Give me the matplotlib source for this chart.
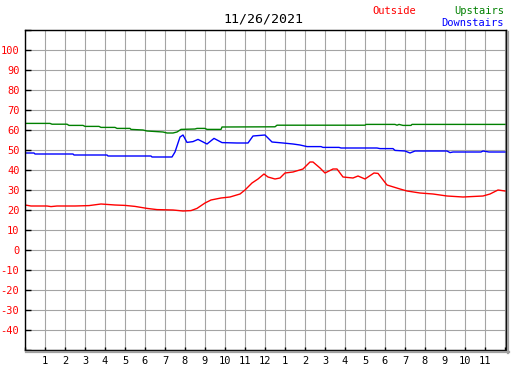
import numpy as np
import matplotlib.pyplot as plt
from matplotlib.lines import Line2D

title = "11/26/2021"

out_h = [0, 0.3, 1.1, 1.3, 1.6, 2.5, 3.2, 3.8, 4.5, 5.0, 5.5, 6.1, 6.6, 7.4, 7.9, 8.3,
         8.6, 9.0, 9.3, 9.8, 10.25, 10.75, 11.0, 11.35, 11.65, 11.95, 12.15, 12.5, 12.75,
         13.0, 13.4, 13.9, 14.25, 14.4, 14.75, 15.0, 15.4, 15.6, 15.9, 16.4, 16.65, 17.0,
         17.45, 17.65, 18.1, 18.75, 19.1, 19.75, 20.4, 21.1, 21.9, 22.9, 23.25, 23.65, 24.0]
out_v = [22.5, 22, 22, 21.7, 22, 22, 22.2, 23, 22.5, 22.3, 21.8, 20.8, 20.2, 20, 19.5, 19.7,
         20.8, 23.5, 25, 26, 26.5, 28, 30, 33.5, 35.5, 38, 36.5, 35.5, 36,
         38.5, 39, 40.5, 44, 44, 41, 38.5, 40.5, 40.5, 36.5, 36, 37, 35.5,
         38.5, 38.3, 32.5, 30.5, 29.5, 28.5, 28, 27, 26.5, 27, 28, 30, 29.5]

up_h = [0, 1.25, 1.35, 2.1, 2.2, 2.9, 3.0, 3.7, 3.8, 4.5, 4.6, 5.25, 5.3, 5.9, 6.1, 6.9,
        7.1, 7.4, 7.6, 7.8, 8.5, 8.6, 9.0, 9.1, 9.8, 9.85, 12.5, 12.6, 17.0, 17.05, 18.5,
        18.6, 18.7, 18.9, 19.3, 19.35, 24.0]
up_v = [63.3, 63.3, 62.9, 62.9, 62.3, 62.3, 61.8, 61.8, 61.3, 61.3, 60.8, 60.8, 60.3, 60.0,
        59.5, 59.0, 58.5, 58.5, 59.0, 60.3, 60.5, 60.8, 60.8, 60.3, 60.3, 61.5, 61.6, 62.4,
        62.4, 62.8, 62.8, 62.4, 62.8, 62.3, 62.3, 62.8, 62.8]

down_h = [0, 0.45, 0.5, 2.4, 2.45, 4.1, 4.15, 6.3, 6.35, 7.35, 7.5, 7.75, 7.9, 8.1, 8.4,
          8.65, 9.1, 9.45, 9.85, 10.6, 11.15, 11.4, 12.0, 12.35, 12.9, 13.4, 13.75, 14.1,
          14.8, 14.9, 15.7, 15.8, 17.6, 17.75, 18.4, 18.5, 19.0, 19.25, 19.5, 21.1, 21.25,
          21.4, 22.8, 22.9, 23.2, 24.0]
down_v = [48.5, 48.5, 48, 48, 47.5, 47.5, 47, 47, 46.5, 46.5, 49, 56.5, 57.5, 53.8, 54.2,
          55.3, 53, 55.8, 53.7, 53.5, 53.5, 57, 57.5, 54, 53.5, 53, 52.5, 51.7,
          51.7, 51.3, 51.3, 51, 51, 50.7, 50.7, 49.8, 49.5, 48.5, 49.5, 49.5, 48.7,
          49, 49, 49.5, 49, 49]

x_ticks = list(range(1, 24))
x_labels = [str(h if h <= 12 else h - 12) for h in x_ticks]
y_ticks = list(range(-40, 101, 10))

W, H = 527, 370
fig = plt.figure(figsize=(W / 100, H / 100), dpi=100)
L, R, B, T = 25, 506, 350, 30
ax = fig.add_axes([L / W, 1 - B / H, (R - L) / W, (B - T) / H])

ax.plot(up_h, up_v, color='#008000', lw=1.0)
ax.plot(down_h, down_v, color='#0000ff', lw=1.0)
ax.plot(out_h, out_v, color='#ff0000', lw=1.0)

ax.set_xlim(0, 24.05)
ax.set_ylim(-50, 110)
ax.set_xticks(range(0, 25))
ax.set_xticklabels([''] + x_labels + [''])
ax.set_yticks(range(-50, 111, 10))
ax.set_yticklabels([''] + [str(v) for v in y_ticks] + [''])
ax.grid(True, color='#a4a4a4', lw=0.8)
ax.set_axisbelow(True)

mono = 'DejaVu Sans Mono'
ax.tick_params(axis='y', direction='in', length=4, width=1, pad=4, labelcolor='#ff0000',
               labelsize=7.5)
ax.tick_params(axis='x', direction='in', length=2.5, width=1, pad=4, labelsize=7.5)
for lab in ax.get_xticklabels() + ax.get_yticklabels():
    lab.set_family(mono)
for s in ax.spines.values():
    s.set_linewidth(1.0)
    s.set_color('black')

# drop shadow right and bottom
fig.add_artist(Line2D([(R + 1.8) / W] * 2, [1 - (B + 2.5) / H, 1 - (T + 2) / H],
                      color='#a0a0a0', lw=1.6, transform=fig.transFigure))
fig.add_artist(Line2D([(L + 1) / W, (R + 2.6) / W], [1 - (B + 1.8) / H] * 2,
                      color='#a0a0a0', lw=1.6, transform=fig.transFigure))

fig.text(263 / W, 1 - 19 / H, title, ha='center', va='center', fontsize=9.5, family=mono)
fig.text(372 / W, 1 - 11 / H, "Outside", ha='left', va='center', fontsize=7.5,
         family=mono, color='#ff0000')
fig.text(504 / W, 1 - 11 / H, "Upstairs", ha='right', va='center', fontsize=7.5,
         family=mono, color='#008000')
fig.text(504 / W, 1 - 23 / H, "Downstairs", ha='right', va='center', fontsize=7.5,
         family=mono, color='#0000ff')

fig.savefig('out.png', dpi=100)
